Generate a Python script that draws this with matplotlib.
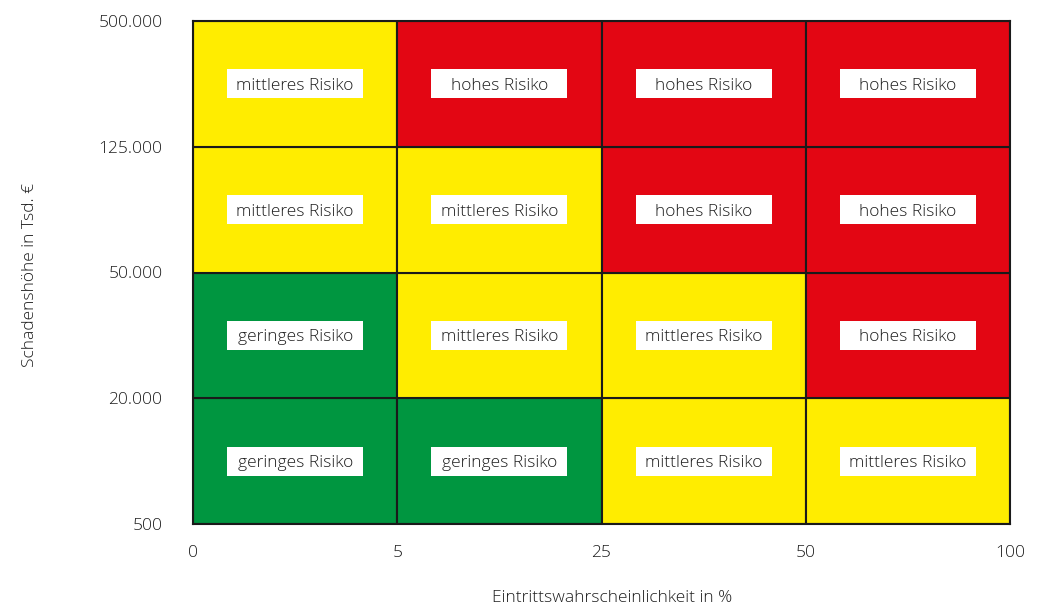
import matplotlib
matplotlib.use("Agg")
import matplotlib.pyplot as plt
from matplotlib.patches import Rectangle

plt.rcParams['font.family'] = ['Open Sans', 'DejaVu Sans']
plt.rcParams['font.weight'] = 'light'

x_ticks = ["0", "5", "25", "50", "100"]
y_ticks = ["500", "20.000", "50.000", "125.000", "500.000"]
# rows from bottom to top, columns left to right
levels = [
    ["gering", "gering", "mittel", "mittel"],
    ["gering", "mittel", "mittel", "hoch"],
    ["mittel", "mittel", "hoch", "hoch"],
    ["mittel", "hoch", "hoch", "hoch"],
]
level_colors = {"gering": "#009640", "mittel": "#FFED00", "hoch": "#E30613"}
level_labels = {"gering": "geringes Risiko", "mittel": "mittleres Risiko", "hoch": "hohes Risiko"}

fig = plt.figure(figsize=(10.44, 6.08), dpi=100)
ax = fig.add_axes([193/1044, 1-524/608, (1010-193)/1044, (524-21)/608])
text_color = "#1e1e1e"
bw, bh = 0.667, 0.23
for r, row in enumerate(levels):
    for c, lev in enumerate(row):
        ax.add_patch(Rectangle((c, r), 1, 1, facecolor=level_colors[lev],
                               edgecolor="#1a1a1a", linewidth=1.5, zorder=1))
        ax.add_patch(Rectangle((c + 0.5 - bw/2, r + 0.5 - bh/2), bw, bh,
                               facecolor="white", edgecolor="none", zorder=2))
        ax.text(c + 0.5, r + 0.5, level_labels[lev], ha="center", va="center_baseline",
                fontsize=12.5, color=text_color, zorder=3)

ax.set_xlim(0, 4)
ax.set_ylim(0, 4)
ax.set_xticks(range(5))
ax.set_xticklabels(x_ticks)
ax.set_yticks(range(5))
ax.set_yticklabels(y_ticks)
ax.tick_params(length=0, labelsize=12.5, labelcolor=text_color)
ax.tick_params(axis="x", pad=15)
ax.tick_params(axis="y", pad=22)
for s in ax.spines.values():
    s.set_linewidth(1.5)
    s.set_color("#1a1a1a")
    s.set_zorder(4)

fig.text(612/1044, 1-598/608, "Eintrittswahrscheinlichkeit in %", ha="center", va="center",
         fontsize=12.5, color=text_color)
fig.text(30/1044, 1-275/608, "Schadenshöhe in Tsd. €", ha="center", va="center",
         rotation=90, fontsize=12.5, color=text_color)

fig.savefig("out.png", dpi=100)
